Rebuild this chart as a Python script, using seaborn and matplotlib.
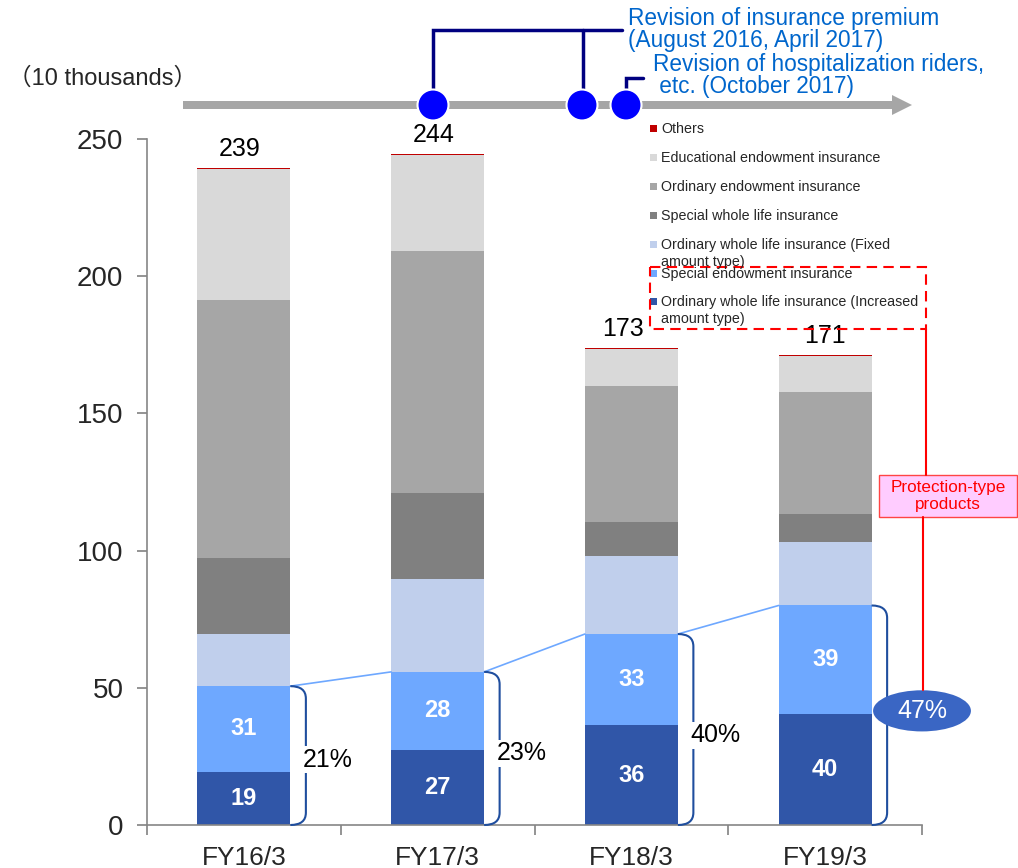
import numpy as np
import matplotlib
matplotlib.use('Agg')
import matplotlib.pyplot as plt
import seaborn as sns
from matplotlib.patches import Rectangle, Ellipse, FancyArrow, PathPatch
from matplotlib.path import Path

# data (10 thousands), stacked bottom -> top
years = ['FY16/3', 'FY17/3', 'FY18/3', 'FY19/3']
increased = [19.4, 27.4, 36.3, 40.4]
special_endow = [31.2, 28.4, 33.3, 39.6]
fixed_amount = [19.0, 33.8, 28.4, 23.1]
special_whole = [27.6, 31.5, 12.3, 10.2]
ordinary_endow = [94.1, 88.1, 49.7, 44.6]
educational = [47.9, 34.9, 13.5, 12.9]
others = [0.4, 0.4, 0.4, 0.4]

totals = [239, 244, 173, 171]
increased_lbl = [19, 27, 36, 40]
special_endow_lbl = [31, 28, 33, 39]
protection_share = [21, 23, 40, 47]

series_names = ['Ordinary whole life insurance (Increased\namount type)',
                'Special endowment insurance',
                'Ordinary whole life insurance (Fixed\namount type)',
                'Special whole life insurance',
                'Ordinary endowment insurance',
                'Educational endowment insurance',
                'Others']
colors = ['#3056A8', '#6EA8FF', '#C0CFEC', '#808080', '#A6A6A6', '#D9D9D9', '#C00000']

sns.set_theme(style='white')
plt.rcParams['font.family'] = ['Liberation Sans', 'Noto Sans CJK JP', 'DejaVu Sans']

W, H = 1018, 868
fig = plt.figure(figsize=(W / 100, H / 100), dpi=100)
ax = fig.add_axes([147 / W, 43 / H, 775 / W, 686 / H])

layers = np.array([increased, special_endow, fixed_amount, special_whole,
                   ordinary_endow, educational, others])
cum = np.cumsum(layers, axis=0)
bw = 0.48

# draw cumulative bars from the top layer down so they look stacked
for k in range(len(layers) - 1, -1, -1):
    sns.barplot(x=years, y=cum[k], color=colors[k], width=bw, saturation=1,
                linewidth=0, errorbar=None, ax=ax)

ax.set_xlim(-0.5, 3.5)
ax.set_ylim(0, 250)
ax.set_yticks(range(0, 251, 50))
ax.set_xticks([-0.5, 0.5, 1.5, 2.5, 3.5])
ax.set_xticklabels([])
ax.set_xticks(range(len(years)), minor=True)
ax.set_xticklabels(years, minor=True)
ax.tick_params(axis='x', which='major', length=7, color='#868686', direction='out', bottom=True)
ax.tick_params(axis='x', which='minor', length=0, labelsize=19, pad=15)
ax.tick_params(axis='y', length=7, color='#868686', direction='out', left=True, labelsize=20, pad=10)
for s in ['top', 'right']:
    ax.spines[s].set_visible(False)
for s in ['left', 'bottom']:
    ax.spines[s].set_color('#868686')
    ax.spines[s].set_linewidth(1.2)
ax.set_xlabel('')
ax.set_ylabel('')

# labels inside the two protection layers
for i in range(len(years)):
    ax.text(i, increased[i] / 2, str(increased_lbl[i]), ha='center', va='center',
            color='white', fontsize=17, fontweight='bold')
    ax.text(i, increased[i] + special_endow[i] / 2, str(special_endow_lbl[i]),
            ha='center', va='center', color='white', fontsize=17, fontweight='bold')

# totals above bars
total_dx = [-0.02, -0.02, -0.045, 0.0]
for i in range(len(years)):
    ax.text(i + total_dx[i], cum[-1][i] + 2.5, str(totals[i]), ha='center', va='bottom',
            fontsize=18, color='black')

# trend line across the top of the protection layers
for i in range(len(years) - 1):
    ax.plot([i + bw / 2, i + 1 - bw / 2], [cum[1][i], cum[1][i + 1]],
            color='#6EA8FF', lw=1.2, zorder=3)

# brackets and shares
d, r = 0.08, 4.5
for i in range(len(years)):
    x0 = i + bw / 2
    top = cum[1][i]
    verts = [(x0, top), (x0 + d, top), (x0 + d, top - r), (x0 + d, r),
             (x0 + d, 0), (x0, 0)]
    codes = [Path.MOVETO, Path.CURVE3, Path.CURVE3, Path.LINETO, Path.CURVE3, Path.CURVE3]
    ax.add_patch(PathPatch(Path(verts, codes), fill=False, ec='#1F4E9E', lw=1.5,
                           clip_on=False, zorder=4))
    if i == len(years) - 1:
        ex, ey = x0 + d + 0.18, top * 0.52
        ax.add_patch(Ellipse((ex, ey), 0.505, 15, fc='#3A66C4', ec='none',
                             clip_on=False, zorder=5))
        ax.text(ex, ey, f'{protection_share[i]}%', ha='center', va='center',
                color='white', fontsize=18, zorder=6)
    else:
        ax.text(x0 + d - 0.015, top * 0.47, f'{protection_share[i]}%', ha='left', va='center',
                fontsize=18, color='black', zorder=5,
                bbox=dict(fc='white', ec='none', pad=1))

# overlay in pixel coordinates for the timeline, legend and callouts
ov = fig.add_axes([0, 0, 1, 1])
ov.set_xlim(0, W)
ov.set_ylim(H, 0)
ov.axis('off')
ov.patch.set_alpha(0)

ov.text(103, 85, '（10 thousands）', ha='center', va='baseline', fontsize=17)

ov.add_patch(FancyArrow(183, 105, 729, 0, width=8, head_width=20, head_length=20,
                        length_includes_head=True, color='#A6A6A6', lw=0))
navy = '#000080'
ov.plot([433, 433, 622], [92, 30, 30], color=navy, lw=2.5, solid_joinstyle='miter')
ov.plot([583, 583], [30, 92], color=navy, lw=2.5)
ov.plot([626, 626, 643], [90, 78, 78], color=navy, lw=2.5, solid_joinstyle='miter')
for cx in [433, 582, 626]:
    ov.add_patch(Ellipse((cx, 105), 31, 31, fc='#0000FF', ec='white', lw=1.5, zorder=5))

blue_txt = '#0066CC'
ov.text(628, 25, 'Revision of insurance premium', color=blue_txt, fontsize=16.3, va='baseline')
ov.text(628, 47, '(August 2016, April 2017)', color=blue_txt, fontsize=16.3, va='baseline')
ov.text(653, 71, 'Revision of hospitalization riders,', color=blue_txt, fontsize=16.3, va='baseline')
ov.text(653, 93, ' etc. (October 2017)', color=blue_txt, fontsize=16.3, va='baseline')

# legend (top layer first)
leg_y = [129, 158, 187, 216, 245, 274, 302]
for j, k in enumerate(range(len(series_names) - 1, -1, -1)):
    y = leg_y[j]
    ov.add_patch(Rectangle((650, y - 4), 7, 7, fc=colors[k], ec='none'))
    for n, line in enumerate(series_names[k].split('\n')):
        ov.text(661, y + n * 17, line, fontsize=10.3, va='center', ha='left')

# protection-type callout
ov.add_patch(Rectangle((650, 267), 276, 62, fill=False, ec='#FF0000', ls=(0, (5, 3)), lw=1.5))
ov.plot([926, 926], [329, 475], color='#FF0000', lw=1.5)
ov.add_patch(Rectangle((879, 475), 138, 42, fc='#FFCCFF', ec='#FF4444', lw=1))
ov.text(948, 496, 'Protection-type\nproducts', color='#FF0000', fontsize=12.3,
        ha='center', va='center', linespacing=1.1)
ov.plot([923, 923], [517, 690], color='#FF0000', lw=1.5)

fig.savefig('out.png', dpi=100)
